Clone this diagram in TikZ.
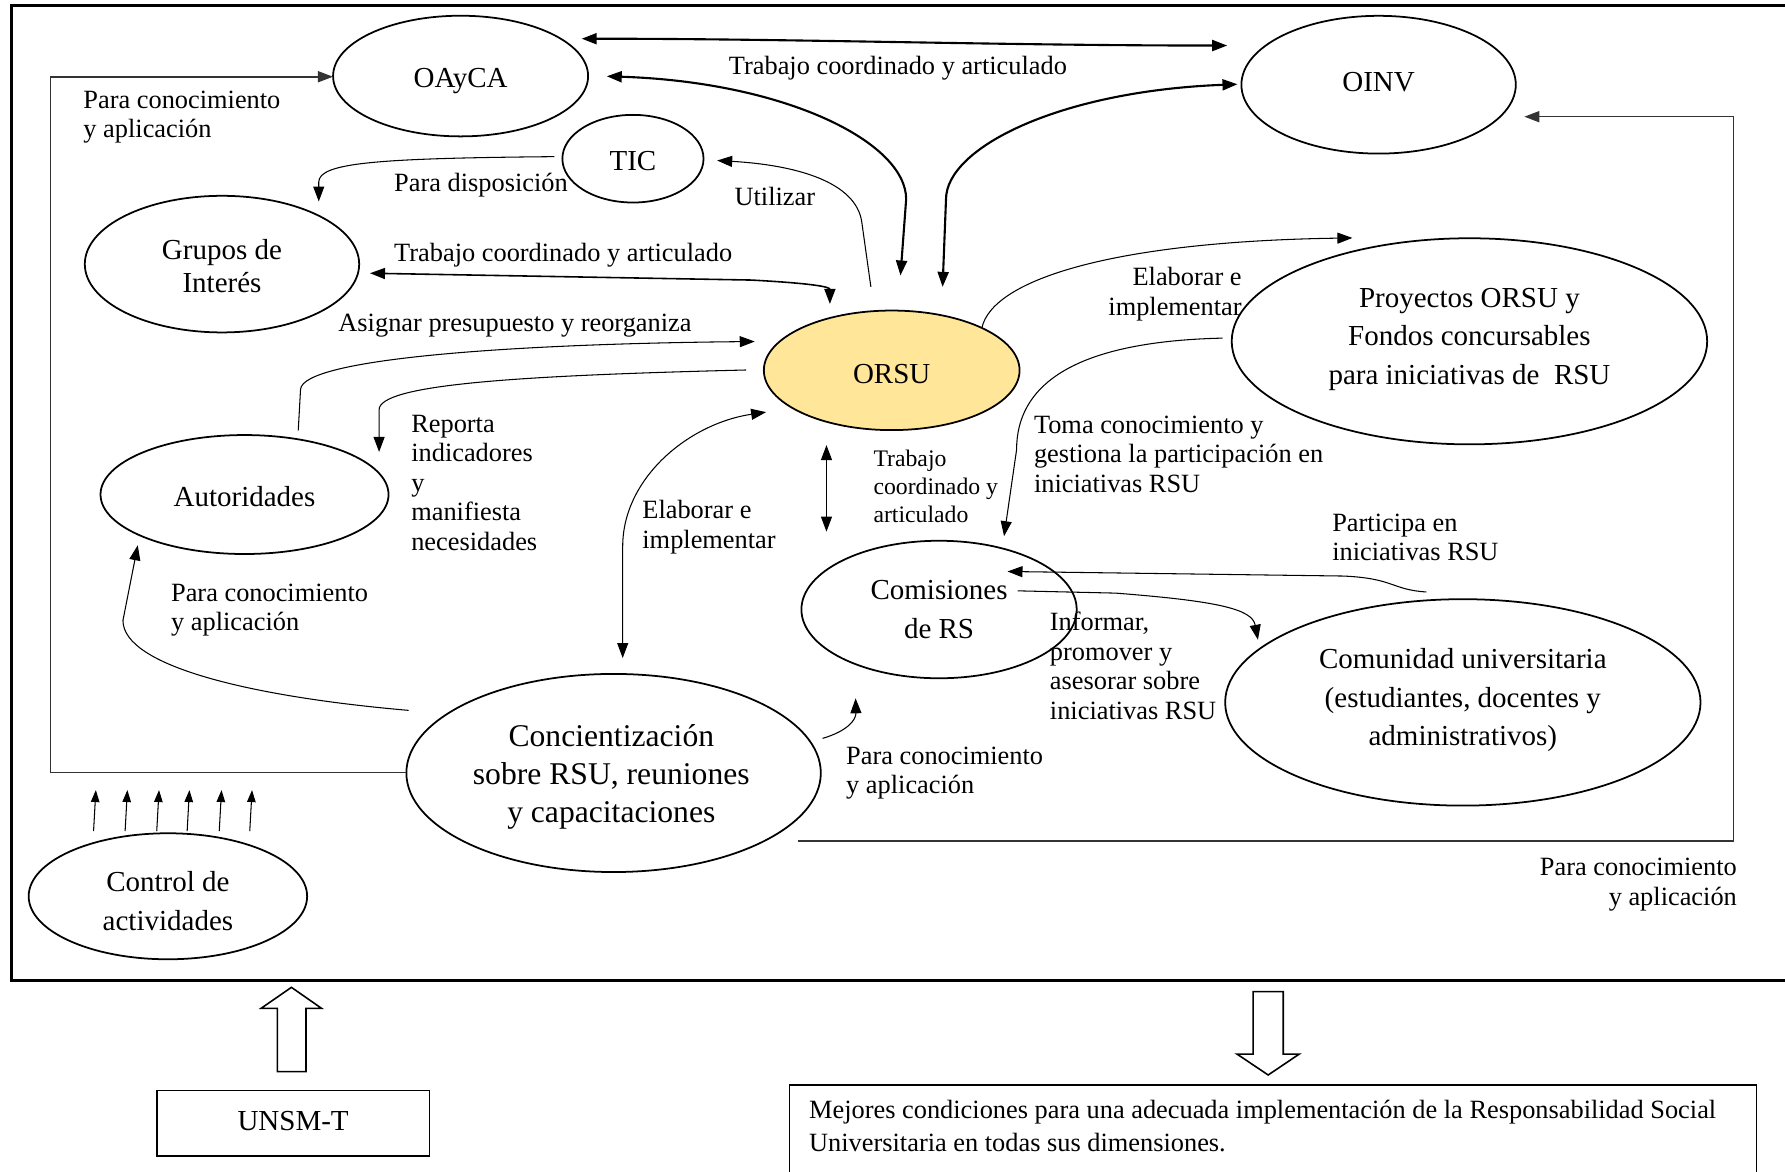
\documentclass[tikz,border=0pt]{standalone}
\usepackage{fontspec}
\setmainfont{Liberation Serif}
\usetikzlibrary{arrows.meta,shapes.geometric}
\definecolor{orsufill}{RGB}{255,230,153}
\begin{document}
\begin{tikzpicture}[x=0.022768cm, y=-0.022768cm,
  ell/.style={draw, ellipse, line width=1pt, inner sep=0},
  ntxt/.style={inner sep=0, align=center, font=\fontsize{16.5}{22}\selectfont},
  lbl/.style={inner sep=0, align=left, font=\fontsize{15}{16.8}\selectfont},
  smalllbl/.style={inner sep=0, align=left, font=\fontsize{13.5}{15.9}\selectfont},
  thinline/.style={line width=0.6pt},
  midline/.style={line width=0.9pt},
  thickline/.style={line width=1.2pt},
  arr/.style={-{Triangle[length=0.3cm,width=0.22cm]}},
  darr/.style={{Triangle[length=0.3cm,width=0.22cm]}-{Triangle[length=0.3cm,width=0.22cm]}},
  sarr/.style={-{Triangle[length=0.24cm,width=0.17cm]}},
  hollow/.style={line width=0.9pt, fill=white},
]
\useasboundingbox (0,0) rectangle (1568,1029);
% outer frame
\draw[line width=1.7pt] (1580,5) -- (10,5) -- (10,861) -- (1580,861);

% ellipses
\node[ell, minimum width=5.100cm, minimum height=2.413cm] (oayca) at (404.6,66.8) {};
\node[ell, minimum width=5.487cm, minimum height=2.755cm] (oinv) at (1211,74.4) {};
\node[ell, minimum width=2.823cm, minimum height=1.753cm] (tic) at (556,139.4) {};
\node[ell, minimum width=5.487cm, minimum height=2.732cm] (grupos) at (195,232) {};
\node[ell, fill=orsufill, minimum width=5.114cm, minimum height=2.391cm] (orsu) at (783.3,325.3) {};
\node[ell, minimum width=9.508cm, minimum height=4.121cm] (proy) at (1290.8,299.8) {};
\node[ell, minimum width=5.760cm, minimum height=2.379cm] (autor) at (214.8,434.4) {};
\node[ell, minimum width=5.505cm, minimum height=2.750cm] (comis) at (824.9,535.4) {};
\node[ell, minimum width=9.506cm, minimum height=4.128cm] (comun) at (1285,617) {};
\node[ell, minimum width=8.288cm, minimum height=3.962cm] (conc) at (539,679) {};
\node[ell, minimum width=5.569cm, minimum height=2.520cm] (control) at (147.5,787.3) {};

% node texts
\node[ntxt] (oayca-t) at (404.6,71) {OAyCA};
\node[ntxt] (oinv-t) at (1211,72.5) {OINV};
\node[ntxt] (tic-t) at (556,141.5) {TIC};
\node[ntxt, font=\fontsize{16.5}{18.8}\selectfont] (grupos-t) at (195,234) {Grupos de\\Interés};
\node[ntxt] (orsu-t) at (783.3,328.5) {ORSU};
\node[ntxt] (proy-t) at (1290.8,298) {Proyectos ORSU y\\Fondos concursables\\para iniciativas de \ RSU};
\node[ntxt] (autor-t) at (214.8,436.5) {Autoridades};
\node[ntxt, font=\fontsize{16.5}{22.7}\selectfont] (comis-t) at (824.9,535.4) {Comisiones\\de RS};
\node[ntxt] (comun-t) at (1285,615) {Comunidad universitaria\\(estudiantes, docentes y\\administrativos)};
\node[ntxt, font=\fontsize{18}{21.4}\selectfont] (conc-t) at (537,682.5) {Concientización\\sobre RSU, reuniones\\y capacitaciones};
\node[ntxt] (control-t) at (147.5,791.5) {Control de\\actividades};

% endpoints
\coordinate (a1) at (511,34);   \coordinate (a2) at (1078,40);
\coordinate (b1) at (533,67);   \coordinate (b2) at (791,242);
\coordinate (c1) at (1087,74);  \coordinate (c2) at (828,252);
\coordinate (d1) at (765,252);  \coordinate (d2) at (630,141);
\coordinate (e1) at (487,137.6); \coordinate (e2) at (280,177);
\coordinate (f1) at (325,240);  \coordinate (f2) at (729,267);
\coordinate (g1) at (262,378);  \coordinate (g2) at (663,300);
\coordinate (h1) at (655.5,325); \coordinate (h2) at (333,397);
\coordinate (i1) at (673,362);  \coordinate (i2) at (547,578);
\coordinate (j1) at (726,391);  \coordinate (j2) at (726,467);
\coordinate (k1) at (862.5,288); \coordinate (k2) at (1188,209);
\coordinate (m1) at (1074,297); \coordinate (m2) at (882,471);
\coordinate (n1) at (1253,520); \coordinate (n2) at (885,502);
\coordinate (o1) at (894,519);  \coordinate (o2) at (1105,562);
\coordinate (q1) at (722.6,648.6); \coordinate (q2) at (751.6,613.4);
\coordinate (r1) at (359,624);  \coordinate (r2) at (121,479);
\coordinate (s1) at (357,678.7); \coordinate (s2) at (292.5,67.4);
\coordinate (t1) at (701,738.5); \coordinate (t2) at (1339,102.5);

% connectors
\draw[thickline, darr] (a1) .. controls (700,34) and (880,40) .. (a2);
\draw[thickline, darr] (b1) .. controls (690,72) and (796,125) .. (796,175) -- (b2);
\draw[thickline, darr] (c1) .. controls (930,80) and (831,130) .. (831,175) -- (c2);
\draw[thinline, arr] (d1) -- (757,195) .. controls (752,160) and (700,145) .. (d2);
\draw[thinline, arr] (e1) .. controls (330,139) and (280,143) .. (280,160) -- (e2);
\draw[midline, darr] (f1) -- (660,246) .. controls (715,249) and (729,252) .. (f2);
\draw[thinline, arr] (g1) -- (264,342) .. controls (266,315) and (450,302) .. (g2);
\draw[thinline, arr] (h1) .. controls (450,330) and (333,338) .. (333,360) -- (h2);
\draw[thinline, darr] (i1) .. controls (605,372) and (547,420) .. (547,480) -- (i2);
\draw[thinline, darr] (j1) -- (j2);
\draw[thinline, arr] (k1) .. controls (872,245) and (980,212) .. (k2);
\draw[thinline, arr] (m1) .. controls (940,300) and (893,340) .. (893,395) -- (m2);
\draw[thinline, arr] (n1) .. controls (1222,518) and (1225,508) .. (1180,506) -- (n2);
\draw[thinline, arr] (o1) -- (980,521) .. controls (1070,528) and (1100,535) .. (o2);
\draw[thinline, arr] (q1) .. controls (745,642) and (752,632) .. (q2);
\draw[thinline, arr] (r1) .. controls (220,612) and (108,585) .. (108,545) -- (r2);
\draw[midline, arr, draw=black!80] (s1) -- (44.4,678.7) -- (44.4,67.4) -- (s2);
\draw[midline, arr, draw=black!80] (t1) -- (1522.7,738.5) -- (1522.7,102.5) -- (t2);

% six small arrows from control
\foreach \x [count=\k] in {82.2,109.9,137.7,164.4,192.6,219.4} {
  \coordinate (u\k) at (\x,730);
  \coordinate (v\k) at (\x+2,694);
  \draw[thinline, sarr] (u\k) -- (v\k);
}

% labels
\node[lbl, anchor=west] (l1) at (640,60) {Trabajo coordinado y articulado};
\node[lbl, anchor=west] (l2) at (73,103) {Para conocimiento\\y aplicación};
\node[lbl, anchor=west] (l3) at (346,163) {Para disposición};
\node[lbl, anchor=west] (l4) at (645,173) {Utilizar};
\node[lbl, anchor=west] (l5) at (346,224) {Trabajo coordinado y articulado};
\node[lbl, anchor=west] (l6) at (297,286) {Asignar presupuesto y reorganiza};
\node[lbl, anchor=west] (l7) at (361,424) {Reporta\\indicadores\\y\\manifiesta\\necesidades};
\node[lbl, anchor=west] (l8) at (564,463) {Elaborar e\\implementar};
\node[smalllbl, anchor=west] (l9) at (767,427.5) {Trabajo\\coordinado y\\articulado};
\node[lbl, anchor=east, align=right] (l10) at (1091,258.5) {Elaborar e\\implementar};
\node[lbl, anchor=west] (l11) at (908,399) {Toma conocimiento y\\gestiona la participación en\\iniciativas RSU};
\node[lbl, anchor=west] (l12) at (1170,472) {Participa en\\iniciativas RSU};
\node[lbl, anchor=west] (l13) at (922,585) {Informar,\\promover y\\asesorar sobre\\iniciativas RSU};
\node[lbl, anchor=west] (l14) at (743,679) {Para conocimiento\\y aplicación};
\node[lbl, anchor=west] (l15) at (150,536) {Para conocimiento\\y aplicación};
\node[lbl, anchor=east, align=right] (l16) at (1526,777) {Para conocimiento\\y aplicación};

% hollow arrows
\draw[hollow] (243.6,941.4) -- (243.6,885.7) -- (229.4,885.7) -- (256,867.3) -- (282.4,885.7) -- (268.8,885.7) -- (268.8,941.4) -- cycle;
\draw[hollow] (1100.7,871.1) -- (1100.7,925.9) -- (1086.6,925.9) -- (1114,944.3) -- (1141.3,925.9) -- (1127.2,925.9) -- (1127.2,871.1) -- cycle;

% bottom boxes
\node[draw, line width=0.9pt, minimum width=5.453cm, minimum height=1.309cm, inner sep=0] (unsm) at (257.5,986.8) {};
\node[inner sep=0, font=\fontsize{16.5}{20}\selectfont] (unsm-t) at (257.5,984.8) {UNSM-T};
\node[draw, line width=0.9pt, anchor=north west, minimum width=19.33cm, minimum height=1.9cm, inner sep=0] (mejbox) at (693,952.5) {};
\node[inner sep=0, anchor=west, align=left, font=\fontsize{15}{18.8}\selectfont] (mejtext) at (710.5,989.5) {Mejores condiciones para una adecuada implementación de la Responsabilidad Social\\Universitaria en todas sus dimensiones.};
\end{tikzpicture}
\end{document}
